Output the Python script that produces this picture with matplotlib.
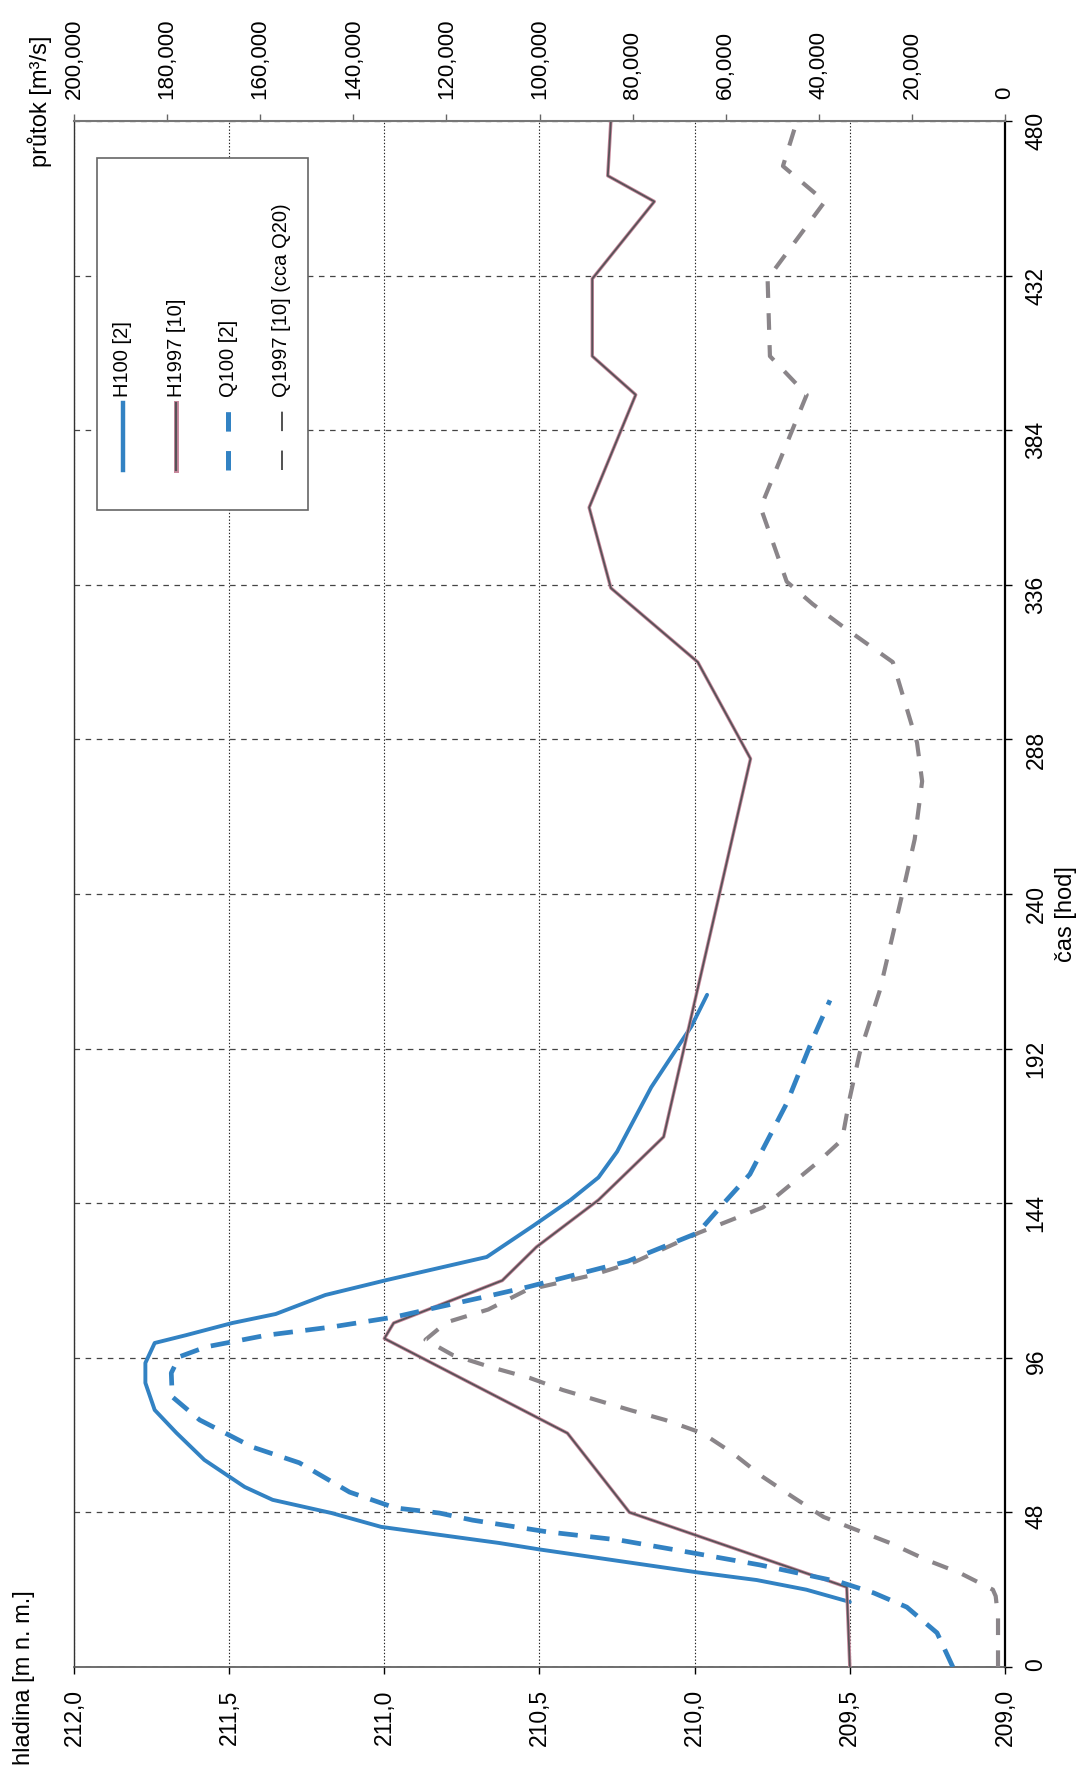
import matplotlib
matplotlib.use('Agg')
import matplotlib.pyplot as plt
from matplotlib.lines import Line2D
from matplotlib.patches import Rectangle
from matplotlib.ticker import FixedLocator, FuncFormatter

plt.rcParams['font.family'] = ['Liberation Sans', 'DejaVu Sans']
plt.rcParams['lines.scale_dashes'] = False

# Data read from the (rotated) scan: time [hod] vs level [m n. m.] / flow [m3/s]
t_h100 = [20.2, 24, 27, 29.5, 33, 36.5, 38.5, 43.5, 47.8, 51.9, 55.9, 64.3, 72.7, 79.8,
          88.2, 94.4, 100.6, 103, 106.8, 109.6, 115.5, 120.2, 127.3, 137, 145, 152, 160,
          180, 199, 208.7]
h100 = [209.50, 209.64, 209.80, 210.00, 210.25, 210.50, 210.63, 211.01, 211.17, 211.36,
        211.45, 211.58, 211.67, 211.74, 211.77, 211.77, 211.74, 211.64, 211.49, 211.35,
        211.19, 210.99, 210.67, 210.52, 210.40, 210.31, 210.25, 210.14, 210.01, 209.96]

t_h1997 = [0, 24.8, 48, 72.6, 102, 106.8, 120, 130.4, 145, 164.6, 282, 312, 335, 360,
           395, 407, 431, 455, 463, 480]
h1997 = [209.50, 209.51, 210.21, 210.41, 211.00, 210.97, 210.62, 210.51, 210.31, 210.10,
         209.82, 209.99, 210.27, 210.34, 210.19, 210.33, 210.33, 210.13, 210.28, 210.27]

t_q100 = [0, 10.6, 18.6, 23, 26.4, 31.7, 35.4, 39.4, 42, 45.6, 47.8, 49.4, 54.3, 63.4,
          68.3, 76.7, 83.9, 91.3, 96.3, 99.4, 103, 105.6, 108.7, 111, 115.5, 118, 126,
          134.8, 145, 153, 175, 195, 207]
q100 = [11200, 14600, 21100, 28200, 35500, 52700, 67000, 82800, 98500, 114400, 121500,
        131000, 140800, 151600, 161700, 173000, 178900, 179100, 177400, 171600, 158700,
        144500, 131000, 124000, 110000, 102500, 81000, 66000, 59800, 54800, 46900,
        41300, 37600]

t_q1997 = [0, 15.5, 22, 24, 29.2, 33.2, 38.5, 42.5, 46.6, 52.8, 59, 66.4, 72.6, 76.7,
           79.8, 86, 89.7, 93.2, 96.9, 101.6, 107, 111, 117, 121.7, 125.8, 134.8, 142.7,
           156.5, 163.7, 177, 190.7, 210, 241, 257, 275, 287, 312, 323, 330, 337, 360,
           395, 407, 431, 455, 466, 480]
q1997 = [1500, 1500, 2000, 2600, 9700, 16800, 24700, 31800, 39000, 45600, 52000, 58500,
         65000, 73000, 80600, 95000, 102000, 110700, 118700, 124500, 120000, 111000,
         102800, 88600, 79500, 65800, 52000, 40400, 35000, 33300, 31200, 26900, 21900,
         19400, 17800, 18900, 24100, 34800, 41300, 46900, 52500, 42600, 50500, 51000,
         38700, 47700, 44700]

level_ticks = [212.0, 211.5, 211.0, 210.5, 210.0, 209.5, 209.0]
time_ticks = list(range(0, 481, 48))
flow_ticks = list(range(0, 200001, 20000))
legend_labels = ['H100 [2]', 'H1997 [10]', 'Q100 [2]', 'Q1997 [10] (cca Q20)']

BLUE = '#3282c3'
PINK = '#c98a9e'
DARK = '#575257'
QGRAY = '#8a8589'
NARROW = ['Liberation Sans Narrow', 'Liberation Sans']

W, H = 1085, 1769


def fx(px):
    return px / W


def fy(py):
    return 1 - py / H


fig = plt.figure(figsize=(W / 100, H / 100), dpi=100)
ax = fig.add_axes([fx(74), fy(1667), 931 / W, 1546 / H])

# level series (bottom axis) against time (right axis)
ax.plot(h100, t_h100, color=BLUE, lw=2.8, solid_capstyle='round', zorder=3)
ax.plot(h1997, t_h1997, color=PINK, lw=2.5, zorder=4)
ax.plot(h1997, t_h1997, color=DARK, lw=1.3, zorder=4)

ax.set_xlim(212, 209)
ax.set_ylim(0, 480)
ax.xaxis.set_major_locator(FixedLocator(level_ticks))
ax.xaxis.set_major_formatter(FuncFormatter(lambda v, p: f'{v:.1f}'.replace('.', ',')))
ax.yaxis.set_major_locator(FixedLocator(time_ticks))
ax.yaxis.tick_right()
ax.tick_params(axis='x', direction='out', length=5, width=1, pad=11, labelsize=16.5,
               labelrotation=90)
ax.tick_params(axis='y', direction='out', length=5, width=1, pad=9, labelsize=16.5,
               labelrotation=90)
for lbl in ax.get_yticklabels():
    lbl.set_family(NARROW)

ax.grid(axis='x', ls=(0, (1, 1.4)), color='#222222', lw=0.8)
ax.grid(axis='y', ls=(0, (4, 4)), color='#444444', lw=0.9)
ax.spines['right'].set_linewidth(1.6)
ax.spines['right'].set_color('black')
ax.spines['left'].set_linewidth(1.0)
ax.spines['left'].set_color('#333333')
ax.spines['bottom'].set_linewidth(1.2)
ax.spines['bottom'].set_color('#555555')
ax.spines['top'].set_visible(False)

# flow series on the top axis
ax2 = ax.twiny()
lq97, = ax2.plot(q1997, t_q1997, color=QGRAY, lw=3.0, zorder=3)
lq97.set_dashes([12, 11])
lq100, = ax2.plot(q100, t_q100, color=BLUE, lw=3.4, zorder=4)
lq100.set_dashes([14, 9])
ax2.set_xlim(200000, 0)
ax2.xaxis.set_major_locator(FixedLocator(flow_ticks))
ax2.xaxis.set_major_formatter(FuncFormatter(lambda v, p: f'{v:,.0f}'))
ax2.tick_params(axis='x', direction='out', length=5, width=1, pad=11, labelsize=16,
                labelrotation=90, color='#666666')
ax2.spines['top'].set_linewidth(1.5)
ax2.spines['top'].set_color('#777777')
for s in ['left', 'right', 'bottom']:
    ax2.spines[s].set_visible(False)

# axis titles
fig.text(fx(24), fy(1765), 'hladina [m n. m.]', rotation=90, ha='center', va='bottom',
         fontsize=17)
fig.text(fx(40), fy(167), 'průtok [m³/s]', rotation=90, ha='center', va='bottom',
         fontsize=17)
fig.text(fx(1066), fy(914), 'čas [hod]', rotation=90, ha='center', va='center',
         fontsize=17, family=NARROW)

# legend box, drawn by hand because the chart is rotated
fig.add_artist(Rectangle((fx(97), fy(510)), (308 - 97) / W, (510 - 158) / H,
                         transform=fig.transFigure, facecolor='white',
                         edgecolor='#666666', lw=1.2, zorder=5))
xs = [123, 176, 228, 282]
y0, y1 = fy(470), fy(403)
fig.add_artist(Line2D([fx(xs[0])] * 2, [y0, y1], color=BLUE, lw=3.2,
                      transform=fig.transFigure, zorder=6))
fig.add_artist(Line2D([fx(xs[1])] * 2, [y0, y1], color=PINK, lw=3.6,
                      transform=fig.transFigure, zorder=6))
fig.add_artist(Line2D([fx(xs[1])] * 2, [y0, y1], color=DARK, lw=1.6,
                      transform=fig.transFigure, zorder=6))
fig.add_artist(Line2D([fx(xs[2])] * 2, [y0, y1], color=BLUE, lw=3.6, dashes=[14, 14],
                      transform=fig.transFigure, zorder=6))
fig.add_artist(Line2D([fx(xs[3])] * 2, [y0, y1], color='#333333', lw=1.2,
                      dashes=[14, 14], transform=fig.transFigure, zorder=6))
for x, lab in zip(xs, legend_labels):
    fig.text(fx(x), fy(397), lab, rotation=90, ha='center', va='bottom', fontsize=14.5,
             zorder=7)

plt.savefig('out.png', dpi=100)
